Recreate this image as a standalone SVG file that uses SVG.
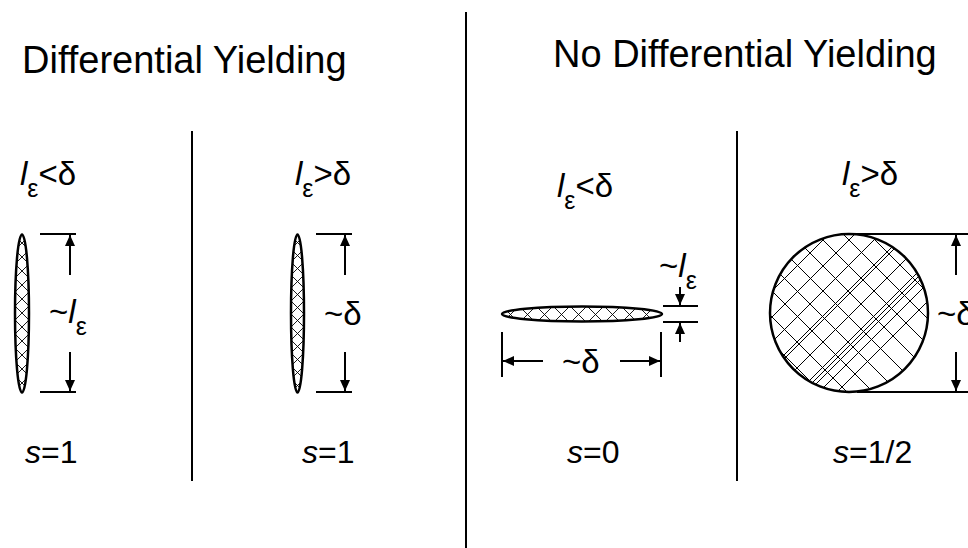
<svg xmlns="http://www.w3.org/2000/svg" width="968" height="548" viewBox="0 0 968 548">
<style>
text{font-family:"Liberation Sans",Arial,sans-serif;fill:#000}
.t{font-size:38px}
.l{font-size:33px}
.s{font-size:32px}
.it{font-style:italic}
.sub{font-size:25px}
.div{stroke:#000;stroke-width:2;fill:none}
.dim{stroke:#000;stroke-width:2;fill:none}
.arr{stroke:#000;stroke-width:2;fill:none;marker-end:url(#ah)}
.sh{fill:none;stroke:#000;stroke-width:2.5}
.h{stroke:#000;stroke-width:1;fill:none}
</style>
<defs>
<marker id="ah" markerUnits="userSpaceOnUse" markerWidth="11" markerHeight="10" refX="11" refY="5" orient="auto">
<path d="M0,0 L11,5 L0,10 z" fill="#000"/>
</marker>
<pattern id="hv1" patternUnits="userSpaceOnUse" x="15" y="236" width="14" height="14">
<path d="M0,0 L14,14 M14,0 L0,14" stroke="#000" stroke-width="0.9"/>
</pattern>
<pattern id="hv2" patternUnits="userSpaceOnUse" x="291" y="236" width="13" height="13">
<path d="M0,0 L13,13 M13,0 L0,13" stroke="#000" stroke-width="0.9"/>
</pattern>
<pattern id="hh" patternUnits="userSpaceOnUse" x="502" y="306" width="17" height="17">
<path d="M0,0 L17,17 M17,0 L0,17" stroke="#000" stroke-width="0.9"/>
</pattern>
<clipPath id="cc"><circle cx="849" cy="313" r="79"/></clipPath>
</defs>

<g id="dividers">
<line class="div" x1="466" y1="12" x2="466" y2="548"/>
<line class="div" x1="192" y1="131" x2="192" y2="481"/>
<line class="div" x1="737" y1="131" x2="737" y2="481"/>
</g>

<g id="titles">
<text class="t" x="22" y="73">Differential Yielding</text>
<text class="t" x="553" y="67">No Differential Yielding</text>
</g>

<g id="panel1">
<text class="l" x="20" y="185"><tspan class="it">l</tspan><tspan class="sub" dy="12">ε</tspan><tspan dy="-12">&lt;δ</tspan></text>
<ellipse cx="22" cy="313.5" rx="7" ry="79" fill="url(#hv1)"/>
<ellipse class="sh" cx="22" cy="313.5" rx="7" ry="79"/>
<text class="l" x="49" y="323">~<tspan class="it">l</tspan><tspan class="sub" dy="12">ε</tspan></text>
<text class="s" x="25" y="463"><tspan class="it">s</tspan>=1</text>
</g>

<g id="panel2">
<text class="l" x="295" y="185"><tspan class="it">l</tspan><tspan class="sub" dy="12">ε</tspan><tspan dy="-12">&gt;δ</tspan></text>
<ellipse cx="297.5" cy="313.5" rx="6.5" ry="79" fill="url(#hv2)"/>
<ellipse class="sh" cx="297.5" cy="313.5" rx="6.5" ry="79"/>
<text class="l" x="324" y="325">~δ</text>
<text class="s" x="302" y="463"><tspan class="it">s</tspan>=1</text>
</g>

<g id="panel3">
<text class="l" x="557" y="197"><tspan class="it">l</tspan><tspan class="sub" dy="12">ε</tspan><tspan dy="-12">&lt;δ</tspan></text>
<ellipse cx="582" cy="314" rx="80" ry="7.5" fill="url(#hh)"/>
<ellipse class="sh" cx="582" cy="314" rx="80" ry="7.5"/>
<text class="l" x="562" y="373">~δ</text>
<text class="l" x="659" y="277">~<tspan class="it">l</tspan><tspan class="sub" dy="12">ε</tspan></text>
<text class="s" x="567" y="463"><tspan class="it">s</tspan>=0</text>
</g>

<g id="panel4">
<text class="l" x="842" y="185"><tspan class="it">l</tspan><tspan class="sub" dy="12">ε</tspan><tspan dy="-12">&gt;δ</tspan></text>
<g clip-path="url(#cc)" class="h">
<path d="M749,88 L949,288 M749,114 L949,314 M749,140 L949,340 M749,166 L949,366 M749,192 L949,392 M749,217 L949,417 M749,243 L949,443 M749,268 L949,468 M749,294 L949,494 M749,320 L949,520 M749,346 L949,546"/>
<path d="M749,238 L949,38 M749,263 L949,63 M749,289 L949,89 M749,314 L949,114 M749,340 L949,140 M749,365 L949,165 M749,390 L949,190 M749,394 L949,194 M749,416 L949,216 M749,441 L949,241 M749,446 L949,246 M749,451 L949,251 M749,462 L949,262 M749,480 L949,280"/>
</g>
<circle class="sh" cx="849" cy="313" r="79"/>
<text class="l" x="937" y="325">~δ</text>
<text class="s" x="833" y="463"><tspan class="it">s</tspan>=1/2</text>
</g>

<g id="connectors">
<line class="dim" x1="40" y1="234" x2="76" y2="234"/>
<line class="dim" x1="40" y1="392" x2="76" y2="392"/>
<line class="arr" x1="70" y1="275" x2="70" y2="235"/>
<line class="arr" x1="70" y1="352" x2="70" y2="391"/>

<line class="dim" x1="316" y1="234" x2="352" y2="234"/>
<line class="dim" x1="316" y1="392" x2="352" y2="392"/>
<line class="arr" x1="345" y1="275" x2="345" y2="235"/>
<line class="arr" x1="345" y1="352" x2="345" y2="391"/>

<line class="dim" x1="502" y1="332" x2="502" y2="377"/>
<line class="dim" x1="661" y1="332" x2="661" y2="377"/>
<line class="arr" x1="543" y1="361" x2="503" y2="361"/>
<line class="arr" x1="620" y1="361" x2="660" y2="361"/>

<line class="dim" x1="663" y1="306" x2="698" y2="306"/>
<line class="dim" x1="663" y1="322" x2="698" y2="322"/>
<line class="arr" x1="680" y1="287" x2="680" y2="305"/>
<line class="arr" x1="680" y1="342" x2="680" y2="323"/>

<line class="dim" x1="857" y1="234" x2="968" y2="234"/>
<line class="dim" x1="857" y1="392" x2="968" y2="392"/>
<line class="arr" x1="956" y1="275" x2="956" y2="235"/>
<line class="arr" x1="956" y1="352" x2="956" y2="391"/>
</g>
</svg>
